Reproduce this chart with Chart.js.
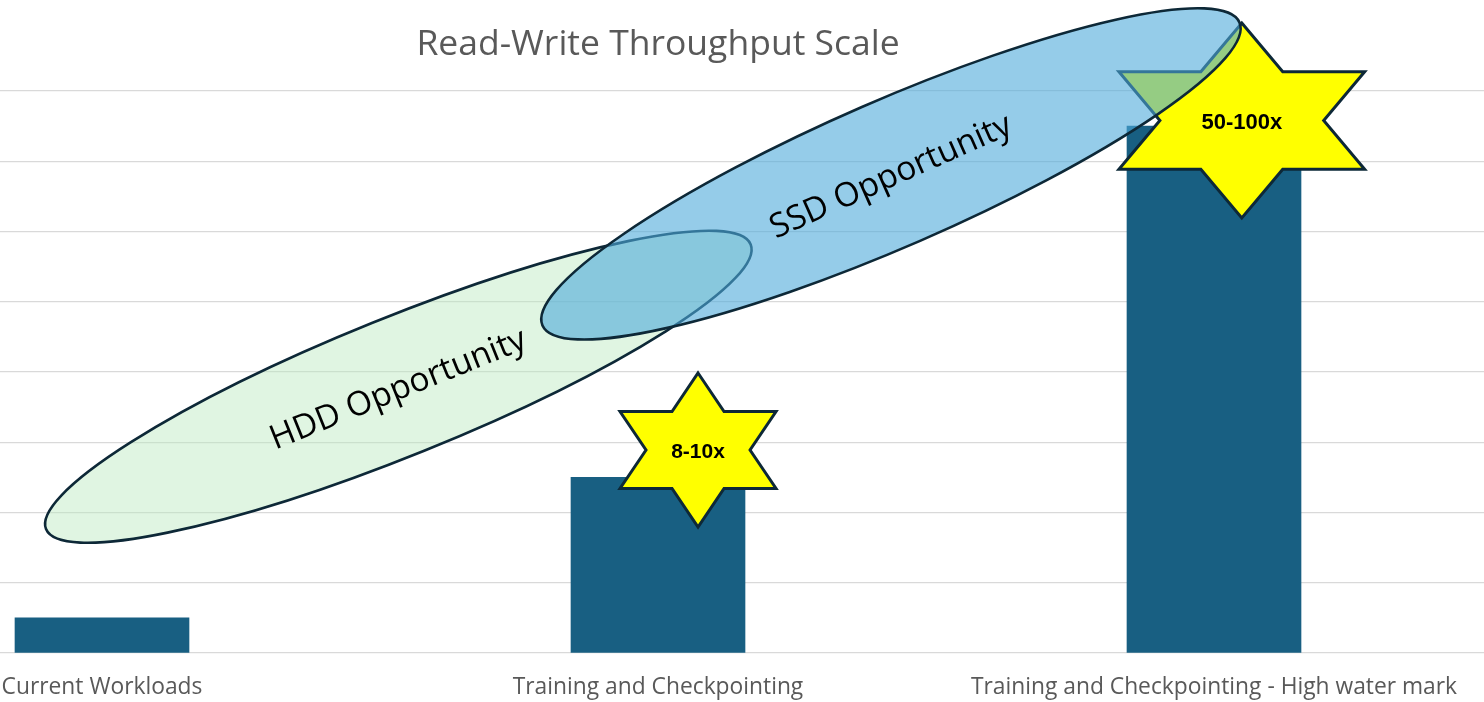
<!DOCTYPE html>
<html>
<head>
<meta charset="utf-8">
<script src="https://cdn.jsdelivr.net/npm/chart.js@4/dist/chart.umd.min.js"></script>
<style>
  html, body { margin: 0; padding: 0; background: #ffffff; overflow: hidden; }
  #wrap { position: absolute; left: -176px; top: 0; width: 1668px; height: 702px; }
</style>
</head>
<body>
<div id="wrap"><canvas id="c" width="1668" height="702"></canvas></div>
<script>
// ---- data ----
const chartTitle = "Read-Write Throughput Scale";
const categories = ["Current Workloads", "Training and Checkpointing", "Training and Checkpointing - High water mark"];
const throughput = [0.5, 2.5, 7.5];
const yTicks = [0, 1, 2, 3, 4, 5, 6, 7, 8];
const starLabels = ["8-10x", "50-100x"];
const starAnchorsX = [1.072, 2.05];
const starAnchorsY = [2.89, 7.58];
const regionLabels = ["HDD Opportunity", "SSD Opportunity"];
const regionCentersX = [0.533, 1.419];
const regionCentersY = [3.79, 6.82];

// ---- styles (kept separate from data) ----
const starStyles = [
  { R: 77, sx: 1.17, font: "bold 21px 'Liberation Sans', Arial, sans-serif" },
  { R: 97.5, sx: 1.455, font: "bold 22px 'Liberation Sans', Arial, sans-serif" }
];
const regionStyles = [
  { a: 380, b: 69, rot: -22, fill: "rgba(186,233,191,0.45)", textRot: -22, textDy: 3 },
  { a: 380, b: 73, rot: -23.5, fill: "rgba(78,170,218,0.6)", textRot: -24, textDy: 3 }
];
const outline = "#0d2837";

const overlayPlugin = {
  id: "overlay",
  afterDatasetsDraw(chart) {
    const ctx = chart.ctx;
    const xs = chart.scales.x, ys = chart.scales.y;
    // stars
    starLabels.forEach((lab, i) => {
      const cx = xs.getPixelForValue(starAnchorsX[i]);
      const cy = ys.getPixelForValue(starAnchorsY[i]);
      const st = starStyles[i];
      ctx.save();
      ctx.beginPath();
      for (let k = 0; k < 12; k++) {
        const ang = (-90 + k * 30) * Math.PI / 180;
        const r = k % 2 === 0 ? st.R : st.R / Math.sqrt(3);
        const px = cx + r * Math.cos(ang) * st.sx;
        const py = cy + r * Math.sin(ang);
        if (k === 0) ctx.moveTo(px, py); else ctx.lineTo(px, py);
      }
      ctx.closePath();
      ctx.fillStyle = "#ffff00";
      ctx.fill();
      ctx.lineWidth = 3;
      ctx.lineJoin = "miter";
      ctx.strokeStyle = outline;
      ctx.stroke();
      ctx.fillStyle = "#000000";
      ctx.font = st.font;
      ctx.textAlign = "center";
      ctx.textBaseline = "middle";
      ctx.fillText(lab, cx, cy + 2);
      ctx.restore();
    });
    // ellipses
    regionLabels.forEach((lab, i) => {
      const cx = xs.getPixelForValue(regionCentersX[i]);
      const cy = ys.getPixelForValue(regionCentersY[i]);
      const st = regionStyles[i];
      ctx.save();
      ctx.beginPath();
      ctx.ellipse(cx, cy, st.a, st.b, st.rot * Math.PI / 180, 0, Math.PI * 2);
      ctx.fillStyle = st.fill;
      ctx.fill();
      ctx.lineWidth = 2.6;
      ctx.strokeStyle = outline;
      ctx.stroke();
      ctx.restore();
    });
    regionLabels.forEach((lab, i) => {
      const cx = xs.getPixelForValue(regionCentersX[i]);
      const cy = ys.getPixelForValue(regionCentersY[i]);
      const st = regionStyles[i];
      ctx.save();
      ctx.translate(cx, cy + st.textDy);
      ctx.rotate(st.textRot * Math.PI / 180);
      ctx.fillStyle = "#000000";
      ctx.font = "33.5px 'Open Sans', sans-serif";
      ctx.textAlign = "center";
      ctx.textBaseline = "middle";
      ctx.fillText(lab, 0, 0);
      ctx.restore();
    });
  }
};

new Chart(document.getElementById("c"), {
  type: "bar",
  data: {
    labels: categories,
    datasets: [{
      data: throughput,
      backgroundColor: "#185f82",
      borderWidth: 0,
      barThickness: 174
    }]
  },
  options: {
    responsive: false,
    animation: false,
    layout: { padding: { left: 0, right: 0, top: 0, bottom: 0 } },
    plugins: {
      legend: { display: false },
      tooltip: { enabled: false },
      title: {
        display: true,
        text: chartTitle,
        color: "#595959",
        font: { family: "'Open Sans', sans-serif", size: 35.5, weight: "normal", lineHeight: 1.2 },
        padding: { top: 24, bottom: 24.4 }
      }
    },
    scales: {
      x: {
        offset: true,
        grid: { display: false, drawTicks: false },
        border: { display: false },
        afterFit(scale) { scale.height = 49; },
        ticks: {
          color: "#595959",
          font: { family: "'Open Sans', sans-serif", size: 22.8, lineHeight: 1.2 },
          padding: 20.5,
          maxRotation: 0,
          autoSkip: false
        }
      },
      y: {
        min: 0,
        max: 8,
        afterBuildTicks(scale) { scale.ticks = yTicks.map(v => ({ value: v })); },
        afterFit(scale) { scale.width = 0; },
        ticks: { display: false },
        grid: { color: "#d9d9d9", lineWidth: 1.3, drawTicks: false },
        border: { display: false }
      }
    }
  },
  plugins: [overlayPlugin]
});
</script>
</body>
</html>
